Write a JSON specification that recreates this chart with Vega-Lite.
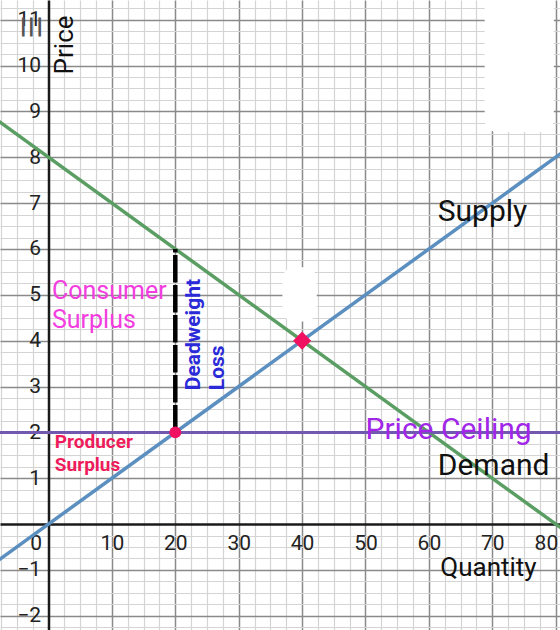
{
  "$schema": "https://vega.github.io/schema/vega-lite/v6.json",
  "width": 560,
  "height": 630,
  "padding": 0,
  "autosize": {"type": "fit", "contains": "padding"},
  "background": "white",
  "config": {"view": {"stroke": null}, "font": "Roboto"},
  "datasets": {
    "lines": [
      {"series": "Demand", "Q": -8, "P": 8.8},
      {"series": "Demand", "Q": 82, "P": -0.2},
      {"series": "Supply", "Q": -8, "P": -0.8},
      {"series": "Supply", "Q": 82, "P": 8.2},
      {"series": "Ceiling", "Q": -8, "P": 2},
      {"series": "Ceiling", "Q": 82, "P": 2}
    ]
  },
  "resolve": {"axis": {"x": "independent", "y": "independent"}},
  "layer": [
    {
      "data": {"name": "lines"},
      "transform": [{"filter": "datum.series == 'Demand'"}],
      "mark": {"type": "line", "color": "#5b9e63", "strokeWidth": 3.5, "clip": true},
      "encoding": {
        "x": {"field": "Q", "type": "quantitative", "scale": {"domain": [-7.65, 80.68], "nice": false, "zero": false},
          "axis": {"orient": "bottom", "labels": false, "ticks": false, "domain": false, "title": null, "grid": true, "gridColor": "#d4d4d4", "gridWidth": 1.2,
            "values": [-7.5, -5, -2.5, 2.5, 5, 7.5, 12.5, 15, 17.5, 22.5, 25, 27.5, 32.5, 35, 37.5, 42.5, 45, 47.5, 52.5, 55, 57.5, 62.5, 65, 67.5, 72.5, 75, 77.5]}},
        "y": {"field": "P", "type": "quantitative", "scale": {"domain": [-2.31, 11.43], "nice": false, "zero": false},
          "axis": {"orient": "left", "labels": false, "ticks": false, "domain": false, "title": null, "grid": true, "gridColor": "#d4d4d4", "gridWidth": 1.2,
            "values": [-2.25, -1.75, -1.5, -1.25, -0.75, -0.5, -0.25, 0.25, 0.5, 0.75, 1.25, 1.5, 1.75, 2.25, 2.5, 2.75, 3.25, 3.5, 3.75, 4.25, 4.5, 4.75, 5.25, 5.5, 5.75, 6.25, 6.5, 6.75, 7.25, 7.5, 7.75, 8.25, 8.5, 8.75, 9.25, 9.5, 9.75, 10.25, 10.5, 10.75, 11.25]}}
      }
    },
    {
      "data": {"name": "lines"},
      "transform": [{"filter": "datum.series == 'Supply'"}],
      "mark": {"type": "line", "color": "#5a8fc0", "strokeWidth": 3.5, "clip": true},
      "encoding": {
        "x": {"field": "Q", "type": "quantitative",
          "axis": {"orient": "bottom", "labels": false, "ticks": false, "domain": false, "title": null, "grid": true, "gridColor": "#8a8a8a", "gridWidth": 1.5,
            "values": [10, 20, 30, 40, 50, 60, 70, 80]}},
        "y": {"field": "P", "type": "quantitative",
          "axis": {"orient": "left", "labels": false, "ticks": false, "domain": false, "title": null, "grid": true, "gridColor": "#8a8a8a", "gridWidth": 1.5,
            "values": [-2, -1, 1, 2, 3, 4, 5, 6, 7, 8, 9, 10, 11]}}
      }
    },
    {
      "data": {"name": "lines"},
      "transform": [{"filter": "datum.series == 'Ceiling'"}],
      "mark": {"type": "line", "color": "#7358b0", "strokeWidth": 3, "clip": true},
      "encoding": {
        "x": {"field": "Q", "type": "quantitative",
          "axis": {"orient": "bottom", "offset": -106, "title": null, "grid": false, "ticks": false, "domain": true, "domainColor": "#1a1a1a", "domainWidth": 2.5,
            "labelFont": "Roboto", "labelFontSize": 21, "labelColor": "#222", "labelPadding": 8,
            "labelAlign": {"expr": "datum.value == 0 || datum.value == 80 ? 'right' : 'center'"},
            "labelOffset": {"expr": "datum.value == 0 ? -7 : (datum.value == 80 ? 2 : 0)"},
            "values": [0, 10, 20, 30, 40, 50, 60, 70, 80]}},
        "y": {"field": "P", "type": "quantitative",
          "axis": {"orient": "left", "offset": -48.5, "title": null, "grid": false, "ticks": false, "domain": true, "domainColor": "#1a1a1a", "domainWidth": 2.5,
            "labelFont": "Roboto", "labelFontSize": 21, "labelColor": "#222", "labelPadding": 8,
            "values": [-2, -1, 1, 2, 3, 4, 5, 6, 7, 8, 9, 10, 11]}}
      }
    },
    {
      "data": {"values": [
        {"Q": 68.8, "Q2": 79.7, "P": 8.55, "P2": 11.6},
        {"Q": 36.9, "Q2": 42.3, "P": 4.42, "P2": 5.6}
      ]},
      "mark": {"type": "rect", "color": "white", "cornerRadius": 12, "clip": true},
      "encoding": {
        "x": {"field": "Q", "type": "quantitative", "axis": null},
        "x2": {"field": "Q2"},
        "y": {"field": "P", "type": "quantitative", "axis": null},
        "y2": {"field": "P2"}
      }
    },
    {
      "data": {"values": [{"Q": 20, "P": 2}, {"Q": 20, "P": 6}]},
      "mark": {"type": "line", "color": "#000", "strokeWidth": 4.5, "strokeDash": [27.5, 2.5]},
      "encoding": {
        "x": {"field": "Q", "type": "quantitative", "axis": null},
        "y": {"field": "P", "type": "quantitative", "axis": null}
      }
    },
    {
      "data": {"values": [{"Q": 20, "P": 2}]},
      "mark": {"type": "point", "shape": "circle", "filled": true, "color": "#f01260", "opacity": 1, "size": 140},
      "encoding": {
        "x": {"field": "Q", "type": "quantitative", "axis": null},
        "y": {"field": "P", "type": "quantitative", "axis": null}
      }
    },
    {
      "data": {"values": [{"Q": 40, "P": 4}]},
      "mark": {"type": "point", "shape": "diamond", "filled": true, "color": "#f01260", "opacity": 1, "size": 330},
      "encoding": {
        "x": {"field": "Q", "type": "quantitative", "axis": null},
        "y": {"field": "P", "type": "quantitative", "axis": null}
      }
    },
    {
      "data": {"values": [
        {"text": "Supply", "Q": 61.4, "P": 6.8},
        {"text": "Demand", "Q": 61.4, "P": 1.27}
      ]},
      "mark": {"type": "text", "align": "left", "baseline": "middle", "font": "Roboto", "fontSize": 30, "color": "#111"},
      "encoding": {
        "x": {"field": "Q", "type": "quantitative", "axis": null},
        "y": {"field": "P", "type": "quantitative", "axis": null},
        "text": {"field": "text"}
      }
    },
    {
      "data": {"values": [{"text": "Quantity", "Q": 61.8, "P": -0.96}]},
      "mark": {"type": "text", "align": "left", "baseline": "middle", "font": "Roboto", "fontSize": 26, "color": "#111"},
      "encoding": {
        "x": {"field": "Q", "type": "quantitative", "axis": null},
        "y": {"field": "P", "type": "quantitative", "axis": null},
        "text": {"field": "text"}
      }
    },
    {
      "data": {"values": [{"text": "Price", "Q": 2.6, "P": 10.45}]},
      "mark": {"type": "text", "align": "center", "baseline": "middle", "angle": 270, "font": "Roboto", "fontSize": 26, "color": "#111"},
      "encoding": {
        "x": {"field": "Q", "type": "quantitative", "axis": null},
        "y": {"field": "P", "type": "quantitative", "axis": null},
        "text": {"field": "text"}
      }
    },
    {
      "data": {"values": [{"text": "Price Ceiling", "Q": 50.0, "P": 2.05}]},
      "mark": {"type": "text", "align": "left", "baseline": "middle", "font": "Roboto", "fontSize": 30, "color": "#a126e8"},
      "encoding": {
        "x": {"field": "Q", "type": "quantitative", "axis": null},
        "y": {"field": "P", "type": "quantitative", "axis": null},
        "text": {"field": "text"}
      }
    },
    {
      "data": {"values": [
        {"text": "Consumer", "Q": 0.55, "P": 5.08},
        {"text": "Surplus", "Q": 0.55, "P": 4.45}
      ]},
      "mark": {"type": "text", "align": "left", "baseline": "middle", "font": "Roboto", "fontSize": 25, "color": "#f23ddf"},
      "encoding": {
        "x": {"field": "Q", "type": "quantitative", "axis": null},
        "y": {"field": "P", "type": "quantitative", "axis": null},
        "text": {"field": "text"}
      }
    },
    {
      "data": {"values": [
        {"text": "Producer", "Q": 1.0, "P": 1.79},
        {"text": "Surplus", "Q": 1.0, "P": 1.29}
      ]},
      "mark": {"type": "text", "align": "left", "baseline": "middle", "font": "Roboto", "fontSize": 19, "fontWeight": "bold", "color": "#ee1c5b"},
      "encoding": {
        "x": {"field": "Q", "type": "quantitative", "axis": null},
        "y": {"field": "P", "type": "quantitative", "axis": null},
        "text": {"field": "text"}
      }
    },
    {
      "data": {"values": [
        {"text": "Deadweight", "Q": 23.0, "P": 2.92},
        {"text": "Loss", "Q": 26.7, "P": 2.92}
      ]},
      "mark": {"type": "text", "align": "left", "baseline": "middle", "angle": 270, "font": "Roboto", "fontSize": 21, "fontWeight": "bold", "color": "#2a2ad8"},
      "encoding": {
        "x": {"field": "Q", "type": "quantitative", "axis": null},
        "y": {"field": "P", "type": "quantitative", "axis": null},
        "text": {"field": "text"}
      }
    },
    {
      "data": {"values": [{"text": "☰", "Q": -2.9, "P": 10.84}]},
      "mark": {"type": "text", "align": "center", "baseline": "middle", "angle": 90, "font": "DejaVu Sans", "fontSize": 26, "color": "#555"},
      "encoding": {
        "x": {"field": "Q", "type": "quantitative", "axis": null},
        "y": {"field": "P", "type": "quantitative", "axis": null},
        "text": {"field": "text"}
      }
    }
  ]
}
